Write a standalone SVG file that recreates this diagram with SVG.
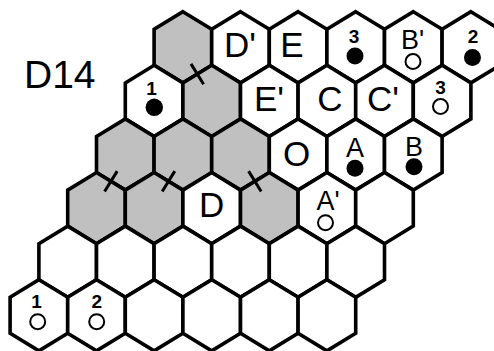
<svg xmlns="http://www.w3.org/2000/svg" xmlns:xlink="http://www.w3.org/1999/xlink" width="494" height="351" viewBox="0 0 494 351">
<style>
.h{fill:#fff;stroke:#000;stroke-width:3.6;stroke-linejoin:miter}
.g{fill:#c0c0c0}
.L{font-family:"Liberation Sans",Arial,sans-serif;font-size:35px;text-anchor:middle;fill:#000}
.M{font-family:"Liberation Sans",Arial,sans-serif;font-size:27px;text-anchor:middle;fill:#000}
.N{font-family:"Liberation Sans",Arial,sans-serif;font-size:19px;font-weight:bold;text-anchor:middle;fill:#000}
.dot{fill:#000}
.ring{fill:none;stroke:#000;stroke-width:2}
.tick{stroke:#000;stroke-width:3;fill:none}
</style>
<defs>
<polygon id="hex" points="0,-35.6 28.8,-18 28.8,18 0,35.6 -28.8,18 -28.8,-18"/>
</defs>
<rect width="494" height="351" fill="#fff"/>
<text id="title" x="24" y="88" style="font-family:'Liberation Sans',Arial,sans-serif;font-size:39px;fill:#000">D14</text>
<!-- row 0 -->
<g id="r0c0"><use xlink:href="#hex" class="h g" x="182.9" y="47.3"/></g>
<g id="r0c1"><use xlink:href="#hex" class="h" x="240.5" y="47.3"/><text class="L" x="240" y="57">D'</text></g>
<g id="r0c2"><use xlink:href="#hex" class="h" x="298.1" y="47.3"/><text class="L" x="292" y="57">E</text></g>
<g id="r0c3"><use xlink:href="#hex" class="h" x="355.7" y="47.3"/><text class="N" x="354" y="43.3">3</text><circle class="dot" cx="355" cy="56" r="8.5"/></g>
<g id="r0c4"><use xlink:href="#hex" class="h" x="413.3" y="47.3"/><text class="M" x="412.5" y="48.5">B'</text><circle class="ring" cx="413" cy="61.5" r="7.5"/></g>
<g id="r0c5"><use xlink:href="#hex" class="h" x="470.9" y="47.3"/><text class="N" x="473" y="43.3">2</text><circle class="dot" cx="472.5" cy="57.5" r="8.5"/></g>
<!-- row 1 -->
<g id="r1c0"><use xlink:href="#hex" class="h" x="154.1" y="100.9"/><text class="N" x="151.5" y="95">1</text><circle class="dot" cx="154.3" cy="107.3" r="8.7"/></g>
<g id="r1c1"><use xlink:href="#hex" class="h g" x="211.7" y="100.9"/></g>
<g id="r1c2"><use xlink:href="#hex" class="h" x="269.3" y="100.9"/><text class="L" x="269" y="110.5">E'</text></g>
<g id="r1c3"><use xlink:href="#hex" class="h" x="326.9" y="100.9"/><text class="L" x="330" y="110.5">C</text></g>
<g id="r1c4"><use xlink:href="#hex" class="h" x="384.5" y="100.9"/><text class="L" x="383" y="110.5">C'</text></g>
<g id="r1c5"><use xlink:href="#hex" class="h" x="442.1" y="100.9"/><text class="N" x="440.5" y="94">3</text><circle class="ring" cx="440.5" cy="106.5" r="7.5"/></g>
<!-- row 2 -->
<g id="r2c0"><use xlink:href="#hex" class="h g" x="125.3" y="154.5"/></g>
<g id="r2c1"><use xlink:href="#hex" class="h g" x="182.9" y="154.5"/></g>
<g id="r2c2"><use xlink:href="#hex" class="h g" x="240.5" y="154.5"/></g>
<g id="r2c3"><use xlink:href="#hex" class="h" x="298.1" y="154.5"/><text class="L" x="296.7" y="166">O</text></g>
<g id="r2c4"><use xlink:href="#hex" class="h" x="355.7" y="154.5"/><text class="M" x="355" y="156.5">A</text><circle class="dot" cx="355" cy="168.3" r="8.5"/></g>
<g id="r2c5"><use xlink:href="#hex" class="h" x="413.3" y="154.5"/><text class="M" x="414" y="155.5">B</text><circle class="dot" cx="414" cy="166.7" r="8.5"/></g>
<!-- row 3 -->
<g id="r3c0"><use xlink:href="#hex" class="h g" x="96.5" y="208.1"/></g>
<g id="r3c1"><use xlink:href="#hex" class="h g" x="154.1" y="208.1"/></g>
<g id="r3c2"><use xlink:href="#hex" class="h" x="211.7" y="208.1"/><text class="L" x="211.7" y="216.5">D</text></g>
<g id="r3c3"><use xlink:href="#hex" class="h g" x="269.3" y="208.1"/></g>
<g id="r3c4"><use xlink:href="#hex" class="h" x="326.9" y="208.1"/><text class="M" x="328" y="210">A'</text><circle class="ring" cx="325.5" cy="222.7" r="7.5"/></g>
<g id="r3c5"><use xlink:href="#hex" class="h" x="384.5" y="208.1"/></g>
<!-- row 4 -->
<g id="r4c0"><use xlink:href="#hex" class="h" x="67.7" y="261.7"/></g>
<g id="r4c1"><use xlink:href="#hex" class="h" x="125.3" y="261.7"/></g>
<g id="r4c2"><use xlink:href="#hex" class="h" x="182.9" y="261.7"/></g>
<g id="r4c3"><use xlink:href="#hex" class="h" x="240.5" y="261.7"/></g>
<g id="r4c4"><use xlink:href="#hex" class="h" x="298.1" y="261.7"/></g>
<g id="r4c5"><use xlink:href="#hex" class="h" x="355.7" y="261.7"/></g>
<!-- row 5 -->
<g id="r5c0"><use xlink:href="#hex" class="h" x="38.9" y="315.3"/><text class="N" x="36.5" y="308.3">1</text><circle class="ring" cx="37.7" cy="321.7" r="7.5"/></g>
<g id="r5c1"><use xlink:href="#hex" class="h" x="96.5" y="315.3"/><text class="N" x="96.7" y="308.3">2</text><circle class="ring" cx="96.7" cy="321.7" r="7.5"/></g>
<g id="r5c2"><use xlink:href="#hex" class="h" x="154.1" y="315.3"/></g>
<g id="r5c3"><use xlink:href="#hex" class="h" x="211.7" y="315.3"/></g>
<g id="r5c4"><use xlink:href="#hex" class="h" x="269.3" y="315.3"/></g>
<g id="r5c5"><use xlink:href="#hex" class="h" x="326.9" y="315.3"/></g>
<!-- connectors / wall ticks -->
<g id="ticks">
<line class="tick" x1="191" y1="63.9" x2="203.6" y2="84.3"/>
<line class="tick" x1="117.2" y1="171.1" x2="104.6" y2="191.5"/>
<line class="tick" x1="174.8" y1="171.1" x2="162.2" y2="191.5"/>
<line class="tick" x1="248.6" y1="171.1" x2="261.2" y2="191.5"/>
</g>
</svg>
